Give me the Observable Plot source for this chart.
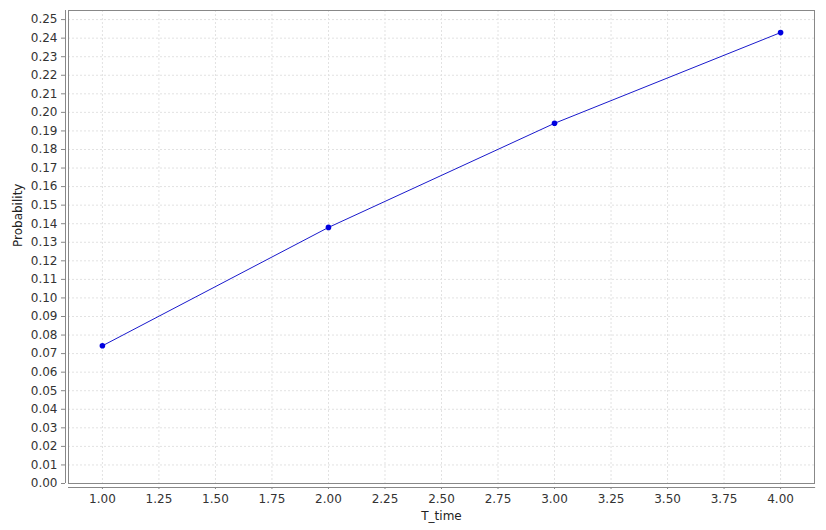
<!DOCTYPE html>
<html>
<head>
<meta charset="utf-8">
<script src="https://cdn.jsdelivr.net/npm/d3@7"></script>
<script src="https://cdn.jsdelivr.net/npm/@observablehq/plot@0.6"></script>
<style>
body { margin: 0; background: #fff; }
#chart svg { display: block; }
</style>
</head>
<body>
<div id="chart"></div>
<script>
const tTime = [1, 2, 3, 4];
const probability = [0.0742, 0.1380, 0.1941, 0.2430];
const xTicks = [1, 1.25, 1.5, 1.75, 2, 2.25, 2.5, 2.75, 3, 3.25, 3.5, 3.75, 4];
const yTicks = d3.range(0, 26).map(i => i / 100);

const data = tTime.map((t, i) => ({t, p: probability[i]}));

const chart = Plot.plot({
  width: 826,
  height: 530,
  marginLeft: 68,
  marginRight: 12,
  marginTop: 10,
  marginBottom: 47,
  style: {fontFamily: "DejaVu Sans", fontSize: "12px", color: "#333", background: "#fff"},
  x: {domain: [0.85, 4.15], ticks: xTicks},
  y: {domain: [0, 0.2549], ticks: yTicks},
  marks: [
    Plot.gridX(xTicks, {stroke: "#e2e2e2", strokeOpacity: 1, strokeDasharray: "2,2"}),
    Plot.gridY(yTicks, {stroke: "#e2e2e2", strokeOpacity: 1, strokeDasharray: "2,2"}),
    Plot.frame({stroke: "#888"}),
    Plot.ruleX([0.85], {dx: -3, stroke: "#888"}),
    Plot.ruleY([0], {dy: 4, stroke: "#888", x1: 0.85, x2: 4.155}),
    Plot.axisY(yTicks, {tickSize: 4, dx: -3, tickPadding: 4, tickFormat: d3.format(".2f"), label: null, stroke: "#888", fill: "#333"}),
    Plot.axisX(xTicks, {tickSize: 2, dy: 4, tickPadding: 5, tickFormat: d3.format(".2f"), label: null, stroke: "#888", fill: "#333"}),
    Plot.text(["T_time"], {frameAnchor: "bottom", dy: 36, fontSize: 12, fill: "#222", lineAnchor: "bottom"}),
    Plot.text(["Probability"], {frameAnchor: "left", dx: -50, rotate: -90, fontSize: 12, fill: "#222"}),
    Plot.line(data, {x: "t", y: "p", stroke: "#1a1acc", strokeWidth: 1}),
    Plot.dot(data, {x: "t", y: "p", r: 2.8, fill: "#0000e0", stroke: "none"})
  ]
});
document.getElementById("chart").append(chart);
</script>
</body>
</html>
